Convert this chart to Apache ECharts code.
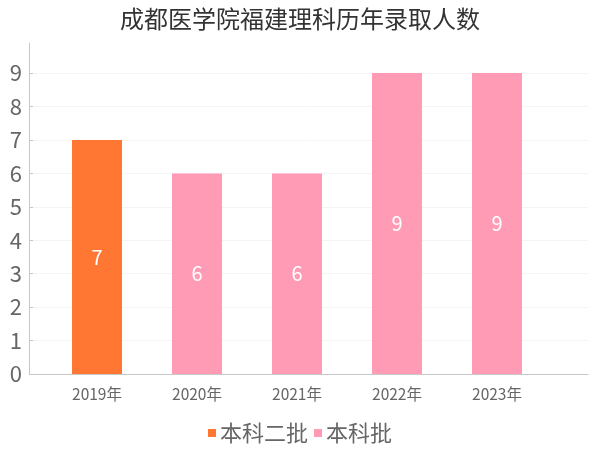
<!DOCTYPE html>
<html>
<head>
<meta charset="utf-8">
<script src="https://cdn.jsdelivr.net/npm/echarts@6/dist/echarts.min.js"></script>
<style>
  html, body { margin: 0; padding: 0; background: #fff; }
  #chart { width: 600px; height: 450px; }
</style>
</head>
<body>
<div id="chart"></div>
<script>
// 数据
var titleText = '成都医学院福建理科历年录取人数';
var years = ['2019年', '2020年', '2021年', '2022年', '2023年'];
var seriesNames = ['本科二批', '本科批'];
var erpiData = [7, '-', '-', '-', '-'];
var benkeData = ['-', 6, 6, 9, 9];
var colors = ['#ff7733', '#ff9bb5'];

var chart = echarts.init(document.getElementById('chart'));
var font = '"Noto Sans CJK SC", "Noto Sans", sans-serif';

var option = {
    backgroundColor: '#fff',
    textStyle: { fontFamily: font },
    title: {
        text: titleText,
        left: 'center',
        top: 2,
        textStyle: { fontSize: 24, fontWeight: 'normal', color: '#333', fontFamily: font }
    },
    legend: {
        data: seriesNames,
        top: 417,
        left: 'center',
        icon: 'rect',
        itemWidth: 8,
        itemHeight: 8,
        itemGap: 6,
        textStyle: { fontSize: 22, color: '#666', padding: [0, 0, 0, -1] }
    },
    // 外层网格：y轴、分隔线和x轴线
    // 内层网格：柱子和年份标签
    grid: [
        { left: 33, right: 12, top: 43, bottom: 76 },
        { left: 47, right: 53, top: 43, bottom: 76 }
    ],
    xAxis: [{
        gridIndex: 0,
        type: 'category',
        data: years,
        offset: 4,
        axisLine: { lineStyle: { color: '#c8c8c8' } },
        axisTick: { show: false },
        axisLabel: { show: false }
    }, {
        gridIndex: 1,
        type: 'category',
        data: years,
        offset: 4,
        axisLine: { show: false },
        axisTick: { alignWithLabel: true, length: 3, lineStyle: { color: '#c8c8c8' } },
        axisLabel: { fontSize: 15.5, color: '#666', margin: 8 }
    }],
    yAxis: [{
        gridIndex: 0,
        type: 'value',
        min: 0,
        max: 9.9,
        interval: 1,
        offset: 4,
        axisLine: { show: true, lineStyle: { color: '#c8c8c8' } },
        axisTick: { show: true, inside: true, length: 4, lineStyle: { color: '#c8c8c8' } },
        axisLabel: { fontSize: 22, color: '#666', margin: 7, showMaxLabel: false },
        splitLine: { showMaxLine: false, lineStyle: { color: '#f4f4f4' } }
    }, {
        gridIndex: 1,
        type: 'value',
        min: 0,
        max: 9.9,
        interval: 1,
        show: false,
        splitLine: { show: false }
    }],
    series: [{
        name: seriesNames[0],
        type: 'bar',
        xAxisIndex: 1,
        yAxisIndex: 1,
        data: erpiData,
        barWidth: 50,
        barGap: '-100%',
        itemStyle: { color: colors[0] },
        label: { show: true, position: 'inside', color: '#fff', fontSize: 20 }
    }, {
        name: seriesNames[1],
        type: 'bar',
        xAxisIndex: 1,
        yAxisIndex: 1,
        data: benkeData,
        barWidth: 50,
        barGap: '-100%',
        itemStyle: { color: colors[1] },
        label: { show: true, position: 'inside', color: '#fff', fontSize: 20 }
    }]
};

chart.setOption(option);
</script>
</body>
</html>
